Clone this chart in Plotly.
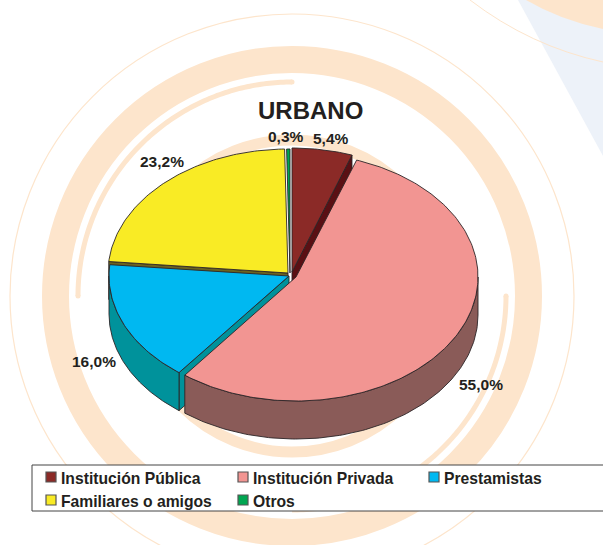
import numpy as np
import plotly.graph_objects as go

# ---- data ----
categories = ["Institución Pública", "Institución Privada", "Prestamistas", "Familiares o amigos", "Otros"]
values = [5.4, 55.0, 16.0, 23.2, 0.3]
value_labels = ["5,4%", "55,0%", "16,0%", "23,2%", "0,3%"]
title_text = "URBANO"

# ---- styles ----
top_colors = ["#8B2A27", "#F29592", "#00B8F1", "#F9EB25", "#00A651"]
side_colors = ["#5A1014", "#8A5B58", "#00929B", "#6B6320", "#00754A"]
outline = "#2B2527"
text_color = "#231F20"
ring_color = "#FDE5CC"
wedge_centers = [(292, 272), (296, 277), (289, 276), (288, 273), (290, 273)]
radius_x = [180, 182, 180, 180, 180]
radius_y = [124, 124, 122, 124, 124]
depth = 38
label_xy = [(330.5, 138), (481, 384), (93.5, 361), (162, 161), (286, 136)]
legend_xy = [(46, 477), (238, 477), (429, 477), (46, 500), (238, 500)]

total = sum(values)
edges = np.concatenate([[0], np.cumsum(values)]) / total * 2 * np.pi


def point(i, t, drop=0.0):
    cx, cy = wedge_centers[i]
    return cx + radius_x[i] * np.sin(t), cy - radius_y[i] * np.cos(t) + drop


def poly(xs, ys, fill, width=0.9):
    return go.Scatter(x=list(xs) + [xs[0]], y=list(ys) + [ys[0]], mode="lines", fill="toself",
                      fillcolor=fill, line=dict(color=outline, width=width),
                      hoverinfo="skip", showlegend=False)


def top(i):
    t = np.linspace(edges[i], edges[i + 1], max(4, int((edges[i + 1] - edges[i]) * 60)))
    x, y = point(i, t)
    cx, cy = wedge_centers[i]
    return poly([cx] + list(x), [cy] + list(y), top_colors[i])


def wall(i):
    a, b = max(edges[i], np.pi / 2), min(edges[i + 1], 3 * np.pi / 2)
    t = np.linspace(a, b, 120)
    x, y = point(i, t)
    x2, y2 = point(i, t[::-1], depth)
    return poly(list(x) + list(x2), list(y) + list(y2), side_colors[i])


def cut(i, t):
    cx, cy = wedge_centers[i]
    x, y = point(i, t)
    return poly([cx, x, x, cx], [cy, y, y + depth, cy + depth], side_colors[i])


fig = go.Figure()
# back to front
fig.add_trace(cut(3, edges[3]))
fig.add_trace(top(3))
fig.add_trace(top(4))
fig.add_trace(cut(0, edges[1]))
fig.add_trace(top(0))
fig.add_trace(cut(2, edges[2]))
fig.add_trace(wall(2))
fig.add_trace(top(2))
fig.add_trace(wall(1))
fig.add_trace(top(1))

# legend swatches
for (lx, ly), c in zip(legend_xy, top_colors):
    fig.add_trace(go.Scatter(x=[lx + 5], y=[ly], mode="markers", hoverinfo="skip", showlegend=False,
                             marker=dict(symbol="square", size=10, color=c, line=dict(color="#555", width=1.2))))

# background decoration
CX, CY = 292, 296


def circle(r, w):
    return dict(type="circle", xref="x", yref="y", x0=CX - r, x1=CX + r, y0=CY - r, y1=CY + r,
                line=dict(color=ring_color, width=w), fillcolor="rgba(0,0,0,0)", layer="below")


def arc(r, d0, d1, w):
    tt = np.radians(np.linspace(d0, d1, 120))
    p = "M " + " L ".join(f"{CX + r * np.cos(v):.2f} {CY + r * np.sin(v):.2f}" for v in tt)
    return dict(type="path", path=p, xref="x", yref="y", line=dict(color=ring_color, width=w), layer="below")


def dot(x, y, r):
    return dict(type="circle", xref="x", yref="y", x0=x - r, x1=x + r, y0=y - r, y1=y + r,
                line=dict(width=0), fillcolor=ring_color, layer="below")


shapes = [
    dict(type="path", path="M 518 0 L 603 0 L 603 156 Z", xref="x", yref="y",
         fillcolor="#EDF2F9", line=dict(width=0), layer="below"),
    dict(type="path", path="M 526 0 Q 560 20 603 29 L 603 0 Z", xref="x", yref="y",
         fillcolor=ring_color, line=dict(width=0), layer="below"),
    dict(type="path", path="M 470 0 Q 530 46 603 62", xref="x", yref="y",
         line=dict(color=ring_color, width=1), layer="below"),
    circle(282, 1.2),
    circle(236.5, 27),
    circle(156, 11),
    arc(214, 180, 270, 5),
    arc(214, 0, 90, 5),
    dot(78, 296, 2.5), dot(292, 82, 2.5), dot(506, 296, 2.5),
    # legend frame
    dict(type="rect", xref="x", yref="y", x0=32, x1=620, y0=465, y1=511,
         fillcolor="white", line=dict(color="#444444", width=1), layer="below"),
]

annotations = [dict(x=310.5, y=110, text=f"<b>{title_text}</b>", showarrow=False,
                    font=dict(family="Liberation Sans", size=24, color=text_color))]
for (lx, ly), s in zip(label_xy, value_labels):
    annotations.append(dict(x=lx, y=ly, text=f"<b>{s}</b>", showarrow=False,
                            font=dict(family="Liberation Sans", size=15.5, color=text_color)))
for (lx, ly), s in zip(legend_xy, categories):
    annotations.append(dict(x=lx + 15, y=ly + 1.5, text=f"<b>{s}</b>", showarrow=False, xanchor="left",
                            xshift=-2, font=dict(family="Liberation Sans", size=15.7, color=text_color)))

fig.update_layout(
    width=603, height=545, margin=dict(l=0, r=0, t=0, b=0),
    paper_bgcolor="white", plot_bgcolor="white", showlegend=False,
    xaxis=dict(range=[0, 603], visible=False, fixedrange=True),
    yaxis=dict(range=[545, 0], visible=False, fixedrange=True),
    shapes=shapes, annotations=annotations,
)
fig.write_html("out.html", config=dict(displayModeBar=False),
               post_script="document.body.style.margin='0';document.body.style.overflow='hidden';")
